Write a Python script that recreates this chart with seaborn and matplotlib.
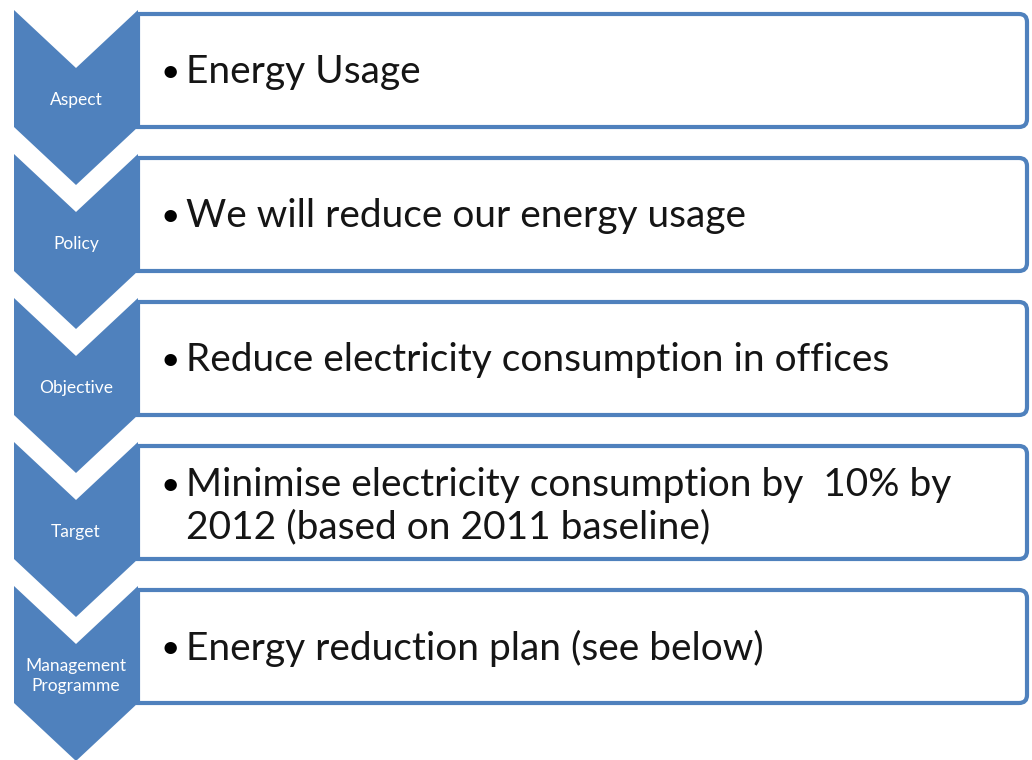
import matplotlib
matplotlib.use("Agg")
import matplotlib.pyplot as plt
from matplotlib.patches import Polygon, PathPatch
from matplotlib.path import Path
import seaborn as sns

stages = ["Aspect", "Policy", "Objective", "Target", "Management\nProgramme"]
statements = [
    ["Energy Usage"],
    ["We will reduce our energy usage"],
    ["Reduce electricity consumption in offices"],
    ["Minimise electricity consumption by  10% by", "2012 (based on 2011 baseline)"],
    ["Energy reduction plan (see below)"],
]

sns.set_theme(style="white")
plt.rcParams['font.family'] = ['Lato', 'DejaVu Sans']

W, H = 1032, 760
fig = plt.figure(figsize=(W / 100, H / 100), dpi=100)
ax = fig.add_axes([0, 0, 1, 1])
ax.set_xlim(0, W)
ax.set_ylim(H, 0)
ax.axis("off")

blue = "#4F81BD"
period = 144
top0 = 10
xl, xr = 14, 138
xc = (xl + xr) / 2


def box_path(x0, x1, ya, yb, r):
    verts = [(x0, ya), (x1 - r, ya), (x1, ya), (x1, ya + r), (x1, yb - r),
             (x1, yb), (x1 - r, yb), (x0, yb), (x0, ya)]
    codes = [Path.MOVETO, Path.LINETO, Path.CURVE3, Path.CURVE3, Path.LINETO,
             Path.CURVE3, Path.CURVE3, Path.LINETO, Path.CLOSEPOLY]
    return Path(verts, codes)


for i, (stage, lines) in enumerate(zip(stages, statements)):
    y0 = top0 + period * i
    ax.add_patch(PathPatch(box_path(xr, 1027, y0 + 4, y0 + 117, 8),
                           facecolor="white", edgecolor=blue, linewidth=3.0, zorder=1))
    pts = [(xl, y0), (xc, y0 + 58), (xr, y0), (xr, y0 + 117), (xc, y0 + 175), (xl, y0 + 117)]
    ax.add_patch(Polygon(pts, closed=True, facecolor=blue, edgecolor="none", zorder=2))
    ax.text(xc, y0 + 90, stage, color="white", ha="center", va="center",
            fontsize=12.5, linespacing=1.25, zorder=3)
    if len(lines) == 1:
        ys = [y0 + 62]
    else:
        ys = [y0 + 43, y0 + 85]
    ax.text(161, ys[0] + 1, "\u2022", fontsize=24, ha="left", va="center", color="black", zorder=3)
    for y, t in zip(ys, lines):
        ax.text(186, y, t, fontsize=28, ha="left", va="center", color="#151515", zorder=3)

fig.savefig("out.png", dpi=100, facecolor="white")
